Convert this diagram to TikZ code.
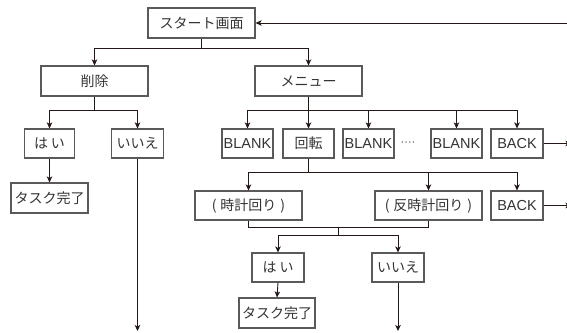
\documentclass[tikz,border=0pt]{standalone}
\usepackage{fontspec}
\setmainfont{Noto Sans CJK JP}
\newfontfamily\latf{Liberation Sans}
\usetikzlibrary{arrows.meta}
\definecolor{boxc}{HTML}{5A5A5A}
\definecolor{linec}{HTML}{231815}
\definecolor{txtc}{HTML}{333333}
\tikzset{
  box/.style={draw=boxc, line width=1.1pt, inner sep=0pt, text=txtc,
    font=\fontsize{14}{16}\selectfont, minimum height=30pt},
  latbox/.style={box, font=\latf\fontsize{14.5}{16}\selectfont},
  conn/.style={draw=linec, line width=0.9pt},
  arr/.style={conn, -{Stealth[length=6pt,width=5.5pt,inset=1.5pt]}},
}
\begin{document}
\begin{tikzpicture}[x=1pt,y=-1pt]
\useasboundingbox (0,0) rectangle (567,332);
% nodes
\node[box, minimum width=107pt] (start) at (201.5,23) {スタート画面};
\node[box, minimum width=107pt] (del) at (94.5,81) {削除};
\node[box, minimum width=107pt] (menu) at (308.5,81) {メニュー};
\node[box, minimum width=50pt, minimum height=29pt] (hai1) at (49.5,143.5) {は\hspace{3pt}い};
\node[box, minimum width=52pt, minimum height=29pt] (iie1) at (137.5,143.5) {いいえ};
\node[latbox, minimum width=51pt, minimum height=29pt] (blank1) at (247.5,143.5) {BLANK};
\node[box, minimum width=51pt, minimum height=29pt] (kaiten) at (308.5,143.5) {回転};
\node[latbox, minimum width=51pt, minimum height=29pt] (blank2) at (368.5,143.5) {BLANK};
\node[text=txtc, font=\latf\fontsize{11}{12}\selectfont, inner sep=0pt] (dots) at (408,143.5) {····};
\node[latbox, minimum width=51pt, minimum height=29pt] (blank3) at (456.5,143.5) {BLANK};
\node[latbox, minimum width=52pt, minimum height=29pt] (back1) at (517,143.5) {BACK};
\node[box, minimum width=77pt] (task1) at (49.5,198) {タスク完了};
\node[box, minimum width=107pt, minimum height=29pt] (tokei) at (248.5,205.5) {(\hspace{4pt}時計回り\hspace{4pt})};
\node[box, minimum width=107pt, minimum height=29pt] (hantokei) at (428.5,205.5) {(\hspace{4pt}反時計回り\hspace{4pt})};
\node[latbox, minimum width=52pt, minimum height=29pt] (back2) at (517,205.5) {BACK};
\node[box, minimum width=52pt, minimum height=29pt] (hai2) at (278,267.5) {は\hspace{3pt}い};
\node[box, minimum width=76pt] (task2) at (277,313) {タスク完了};
\node[box, minimum width=52pt, minimum height=29pt] (iie2) at (398,267.5) {いいえ};
% free ends
\coordinate (topend) at (567,23);
\coordinate (bk1end) at (571.5,143.5);
\coordinate (bk2end) at (571.5,205.5);
\coordinate (iie1end) at (137.5,331);
\coordinate (iie2end) at (398,331);
\coordinate (j1) at (338,226.5);
\coordinate (j2) at (338,235);
% connectors
\draw[arr] (topend) -- (start.east);
\draw[arr] (start.south) -- ++(0,10) -| (del.north);
\draw[arr] (start.south) -- ++(0,10) -| (menu.north);
\draw[arr] (del.south) -- ++(0,14) -| (hai1.north);
\draw[arr] (del.south) -- ++(0,14) -| (iie1.north);
\draw[arr] (hai1.south) -- (task1.north);
\draw[arr] (iie1.south) -- (iie1end);
\draw[arr] (menu.south) -- (kaiten.north);
\draw[arr] (menu.south) -- ++(0,14) -| (blank1.north);
\draw[arr] (menu.south) -- ++(0,14) -| (blank2.north);
\draw[arr] (menu.south) -- ++(0,14) -| (blank3.north);
\draw[arr] (menu.south) -- ++(0,14) -| (back1.north);
\draw[arr] (back1.east) -- (bk1end);
\draw[arr] (kaiten.south) -- ++(0,14) -| (tokei.north);
\draw[arr] (kaiten.south) -- ++(0,14) -| (hantokei.north);
\draw[arr] (kaiten.south) -- ++(0,14) -| (back2.north);
\draw[arr] (back2.east) -- (bk2end);
\draw[conn] (tokei.south) -- ++(0,6.5) -| (hantokei.south);
\draw[conn] (j1) -- (j2);
\draw[arr] (j2) -| (hai2.north);
\draw[arr] (j2) -| (iie2.north);
\draw[arr] (hai2.south) -- (task2.north);
\draw[arr] (iie2.south) -- (iie2end);
\end{tikzpicture}
\end{document}
